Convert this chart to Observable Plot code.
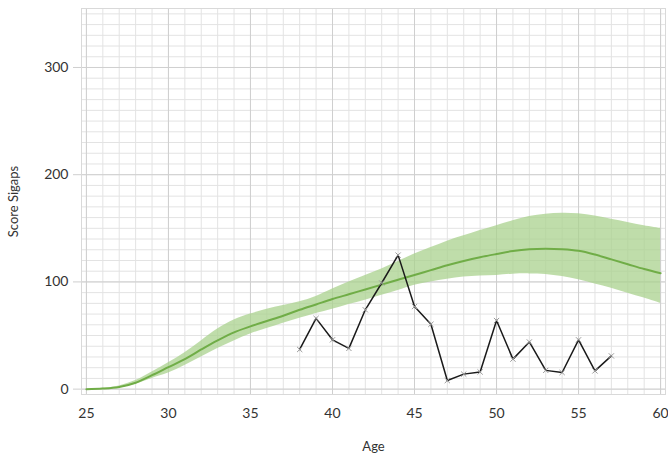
<!DOCTYPE html>
<html>
<head>
<meta charset="utf-8">
<script src="https://cdn.jsdelivr.net/npm/d3@7"></script>
<script src="https://cdn.jsdelivr.net/npm/@observablehq/plot@0.6"></script>
<style>
  html, body { margin: 0; padding: 0; background: #fff; }
  #chart { width: 668px; height: 457px; }
</style>
</head>
<body>
<div id="chart"></div>
<script>
// Reference curve (median and band) by age
const bandAges = [25,26,27,28,29,30,31,32,33,34,35,36,37,38,39,40,41,42,43,44,45,46,47,48,49,50,51,52,53,54,55,56,57,58,59,60];
const median = [0,0.5,2,6,13,20.5,28,37,45.5,53,58.5,63.5,68.5,74,79,84,88.5,93,97.5,102,106.5,111,115.5,119.5,123,126,128.8,130.5,131,130.5,129,125.5,121,116.5,112,108];
const upper  = [0.2,0.8,3,8,16,24.5,34,45,56,64.5,70,74.5,78,81.5,86.5,93.5,100,106,112,119,126,132,138,143,148,152.5,157,161,163,164,163.5,161.5,158.5,155.5,152.5,150];
const lower  = [0,0.3,1.5,4.5,10,15,22,30,38,45,51.5,56.5,61.5,66,70.5,74.5,79,83,87.5,92,97,100,102.5,104.5,105.5,106,107.2,107.5,107,105,102,98,94,89.5,85,80];

// Individual score by age
const personAges = [38,39,40,41,42,43,44,45,46,47,48,49,50,51,52,53,54,55,56,57];
const personScore = [37,66,46,38,74,99,125,77,60.5,8,14,16,64,28,44,17.5,15.5,46,17,31];

// Axis ticks
const xTicks = [25,30,35,40,45,50,55,60];
const yTicks = [0,100,200,300];
const xMinor = d3.range(25, 61, 1);
const yMinor = d3.range(0, 351, 10);

const band = bandAges.map((a, i) => ({age: a, median: median[i], upper: upper[i], lower: lower[i]}));
const person = personAges.map((a, i) => ({age: a, score: personScore[i]}));

const chart = Plot.plot({
  width: 668,
  height: 457,
  marginLeft: 81,
  marginRight: 3,
  marginTop: 8,
  marginBottom: 63,
  style: {fontFamily: "Lato, 'Open Sans', sans-serif", fontSize: "14px", color: "#333", background: "#fff"},
  x: {domain: [24.7, 60.3], ticks: xTicks, tickSize: 0, tickPadding: 14, label: "Age", labelAnchor: "center", labelOffset: 56, labelArrow: "none"},
  y: {domain: [-5, 355], ticks: yTicks, tickSize: 8, tickPadding: 5, label: "Score Sigaps", labelAnchor: "center", labelOffset: 73, labelArrow: "none"},
  marks: [
    Plot.ruleX(xMinor, {stroke: "#e3e3e3", strokeWidth: 1}),
    Plot.ruleY(yMinor, {stroke: "#e3e3e3", strokeWidth: 1}),
    Plot.ruleX(xTicks, {stroke: "#cfcfcf", strokeWidth: 1}),
    Plot.ruleY(yTicks, {stroke: "#cfcfcf", strokeWidth: 1}),
    Plot.frame({stroke: "#d9d9d9"}),
    Plot.areaY(band, {x: "age", y1: "lower", y2: "upper", fill: "#a9d18e", fillOpacity: 0.75, curve: "catmull-rom"}),
    Plot.lineY(band, {x: "age", y: "median", stroke: "#70ad47", strokeWidth: 2, curve: "catmull-rom"}),
    Plot.lineY(person, {x: "age", y: "score", stroke: "#1a1a1a", strokeWidth: 1.5}),
    Plot.dot(person, {x: "age", y: "score", symbol: "times", r: 2.5, stroke: "#9a9a9a", strokeWidth: 1})
  ]
});
chart.querySelectorAll('[aria-label="y-axis tick"]').forEach(el => el.setAttribute("stroke", "#cfcfcf"));
chart.querySelectorAll('[aria-label="x-axis label"], [aria-label="y-axis label"]').forEach(el => el.setAttribute("font-size", "13px"));
document.getElementById("chart").appendChild(chart);
</script>
</body>
</html>
